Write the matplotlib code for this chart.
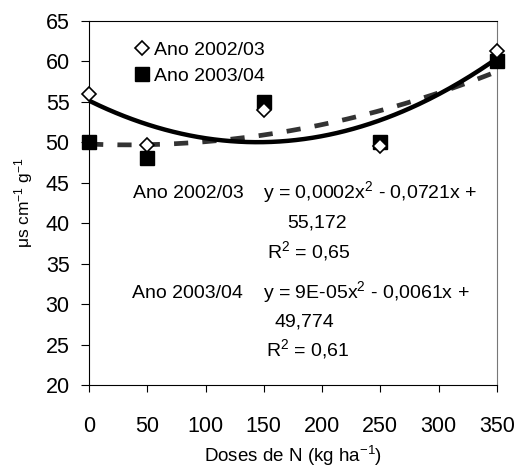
import matplotlib
matplotlib.use("Agg")
import matplotlib.pyplot as plt
import numpy as np

plt.rcParams.update({
    "font.family": ["Liberation Sans", "DejaVu Sans"],
    "mathtext.default": "regular",
    "font.size": 14,
})

# data
doses = [0, 50, 150, 250, 350]
ano_0203 = [56.0, 49.6, 54.0, 49.5, 61.3]
ano_0304 = [50.0, 48.0, 55.0, 50.0, 60.0]
xticks = [0, 50, 100, 150, 200, 250, 300, 350]
yticks = [20, 25, 30, 35, 40, 45, 50, 55, 60, 65]

fig = plt.figure(figsize=(5.18, 4.72), dpi=100)
ax = fig.add_axes([0.172, 0.184, 0.787, 0.772])

# quadratic trendlines (Excel style)
xs = np.linspace(0, 350, 200)
c1 = np.polyfit(doses, ano_0203, 2)
c2 = np.polyfit(doses, ano_0304, 2)
ax.plot(xs, np.polyval(c2, xs), color="#333333", lw=3.4, ls=(0, (3, 3)), zorder=2)
ax.plot(xs, np.polyval(c1, xs), color="black", lw=3.2, zorder=2)

ax.plot(doses, ano_0304, ls="none", marker="s", ms=9.5, mfc="black", mec="black",
        zorder=3, clip_on=False, label="Ano 2003/04")
ax.plot(doses, ano_0203, ls="none", marker="D", ms=7.5, mfc="white", mec="black",
        mew=1.2, zorder=4, clip_on=False, label="Ano 2002/03")

ax.set_xlim(0, 350)
ax.set_ylim(20, 65)
ax.set_xticks(xticks)
ax.set_yticks(yticks)
ax.tick_params(axis="x", direction="out", length=5, pad=17, labelsize=15.5)
ax.tick_params(axis="y", direction="out", length=6, pad=8, labelsize=15.5)
ax.spines["right"].set_color("#777777")

ax.set_xlabel("Doses de N (kg ha$^{-1}$)", fontsize=13.5, labelpad=5)
ax.set_ylabel("μs cm$^{-1}$ g$^{-1}$", fontsize=12.5)
ax.yaxis.set_label_coords(-0.133, 0.5)

h, l = ax.get_legend_handles_labels()
ax.legend(h[::-1], l[::-1], loc="upper left", bbox_to_anchor=(0.09, 0.965),
          frameon=False, fontsize=14, handletextpad=0.15, handlelength=0.9,
          borderaxespad=0, labelspacing=0.45)

# trendline equations
kw = dict(fontsize=14, va="baseline", ha="left")
ax.text(37.7, 43.1, "Ano 2002/03", **kw)
ax.text(149, 43.1, "y = 0,0002x$^2$ - 0,0721x +", **kw)
ax.text(170, 39.5, "55,172", **kw)
ax.text(152.7, 35.8, "R$^2$ = 0,65", **kw)
ax.text(36.9, 30.76, "Ano 2003/04", **kw)
ax.text(149, 30.76, "y = 9E-05x$^2$ - 0,0061x +", **kw)
ax.text(159.5, 27.2, "49,774", **kw)
ax.text(151.8, 23.7, "R$^2$ = 0,61", **kw)

fig.savefig("out.png", dpi=100)
